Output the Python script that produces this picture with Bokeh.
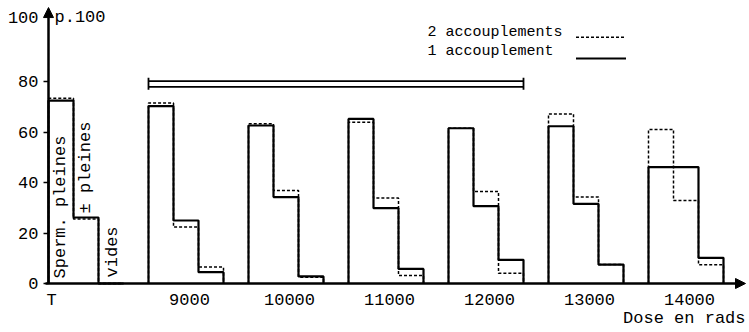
from bokeh.plotting import figure
from bokeh.models import Arrow, NormalHead, Label, FixedTicker, Range1d
from bokeh.embed import file_html
from bokeh.resources import INLINE

# ---- data -------------------------------------------------------------
groups = ["T", "9000", "10000", "11000", "12000", "13000", "14000"]
# 1 accouplement (solid): spermathèques pleines, ± pleines, vides
one_full = [72.6, 70.4, 62.7, 65.3, 61.6, 62.4, 46.2]
one_partial = [26.2, 25.0, 34.3, 29.9, 30.7, 31.6, 46.2]
one_empty = [0.0, 4.5, 2.8, 5.8, 9.4, 7.5, 10.2]
# 2 accouplements (dashed)
two_full = [73.5, 71.6, 63.4, 64.0, 61.6, 67.3, 61.1]
two_partial = [25.6, 22.4, 36.9, 33.9, 36.5, 34.3, 32.9]
two_empty = [0.0, 6.5, 2.5, 3.2, 4.1, 7.5, 7.4]
y_ticks = [0, 20, 40, 60, 80]
bracket_groups = ["9000", "12000"]

FONT = "Liberation Mono"
SLOTS = 4  # 3 bars + 1 gap per group

def outline(full, partial, empty):
    xs, ys = [], []
    for g, (a, b, c) in enumerate(zip(full, partial, empty)):
        s = g * SLOTS
        xs.append([s, s, s + 1, s + 1, s + 2, s + 2, s + 3, s + 3])
        ys.append([0, a, a, b, b, c, c, 0])
    return xs, ys

p = figure(width=749, height=332, output_backend="svg", toolbar_location=None,
           x_range=Range1d(-1.92, 28.04), y_range=Range1d(-19.444, 112.302),
           min_border_left=0, min_border_right=0, min_border_top=0,
           min_border_bottom=0)
p.outline_line_color = None
p.grid.visible = False
p.background_fill_color = "white"
p.border_fill_color = "white"

dx, dy = outline(two_full, two_partial, two_empty)
p.multi_line(dx, dy, line_color="black", line_width=1.5, line_dash="3 2")
sx, sy = outline(one_full, one_partial, one_empty)
p.multi_line(sx, sy, line_color="black", line_width=2.2)

# bracket over 9000..12000
b0 = groups.index(bracket_groups[0]) * SLOTS
b1 = groups.index(bracket_groups[1]) * SLOTS + 3
p.multi_line([[b0, b1], [b0, b1], [b0, b0], [b1, b1]],
             [[80.3, 80.3], [78.0, 78.0], [76.9, 81.6], [76.9, 81.6]],
             line_color="black", line_width=1.8)

# axes (placed inside the frame at the origin)
xa = p.xaxis[0]
xa.fixed_location = 0
tick_pos = [0.12] + [g * SLOTS + 1.64 for g in range(1, len(groups))]
xa.ticker = FixedTicker(ticks=tick_pos)
xa.major_label_overrides = {t: lab for t, lab in zip(tick_pos, groups)}
xa.major_tick_line_color = None
xa.minor_tick_line_color = None
xa.axis_line_color = None
xa.major_label_text_font = FONT
xa.major_label_text_font_size = "17px"
xa.major_label_text_color = "black"
xa.major_label_standoff = 1

ya = p.yaxis[0]
ya.fixed_location = 0
ya.ticker = FixedTicker(ticks=y_ticks)
ya.minor_tick_line_color = None
ya.major_tick_out = 5
ya.major_tick_in = 0
ya.major_tick_line_width = 1.5
ya.axis_line_color = None
ya.major_label_text_font = FONT
ya.major_label_text_font_size = "17px"
ya.major_label_text_color = "black"
ya.major_label_standoff = 5

p.add_layout(Arrow(end=NormalHead(size=10, fill_color="black", line_color="black"),
                   x_start=0, y_start=0, x_end=0, y_end=109.5,
                   line_width=2.5, line_color="black"))
p.add_layout(Arrow(end=NormalHead(size=10, fill_color="black", line_color="black"),
                   x_start=-0.12, y_start=0, x_end=27.88, y_end=0,
                   line_width=2.5, line_color="black"))

def lab(x, y, t, align="left", angle=0, size="17px", baseline="middle"):
    p.add_layout(Label(x=x, y=y, text=t, text_align=align, text_baseline=baseline,
                       angle=angle, text_font=FONT, text_font_size=size,
                       text_color="black"))

lab(-0.4, 105.56, "100", align="right")
lab(0.24, 105.56, "p.100")
lab(27.88, -13.89, "Dose en rads", align="right")

# rotated labels inside T bars
lab(0.48, 2.0, "Sperm. pleines", angle=1.5708)
lab(1.48, 27.8, "\u00b1 pleines", angle=1.5708)
lab(2.56, 2.4, "vides", angle=1.5708)

# legend
lab(15.16, 99.7, "2 accouplements", size="15px")
lab(15.16, 92.0, "1 accouplement", size="15px")
p.line([21.1, 23.1], [97.7, 97.7], line_color="black", line_width=1.5, line_dash="3 2")
p.line([21.1, 23.1], [89.3, 89.3], line_color="black", line_width=2)

open("out.html", "w").write(file_html(p, INLINE))
